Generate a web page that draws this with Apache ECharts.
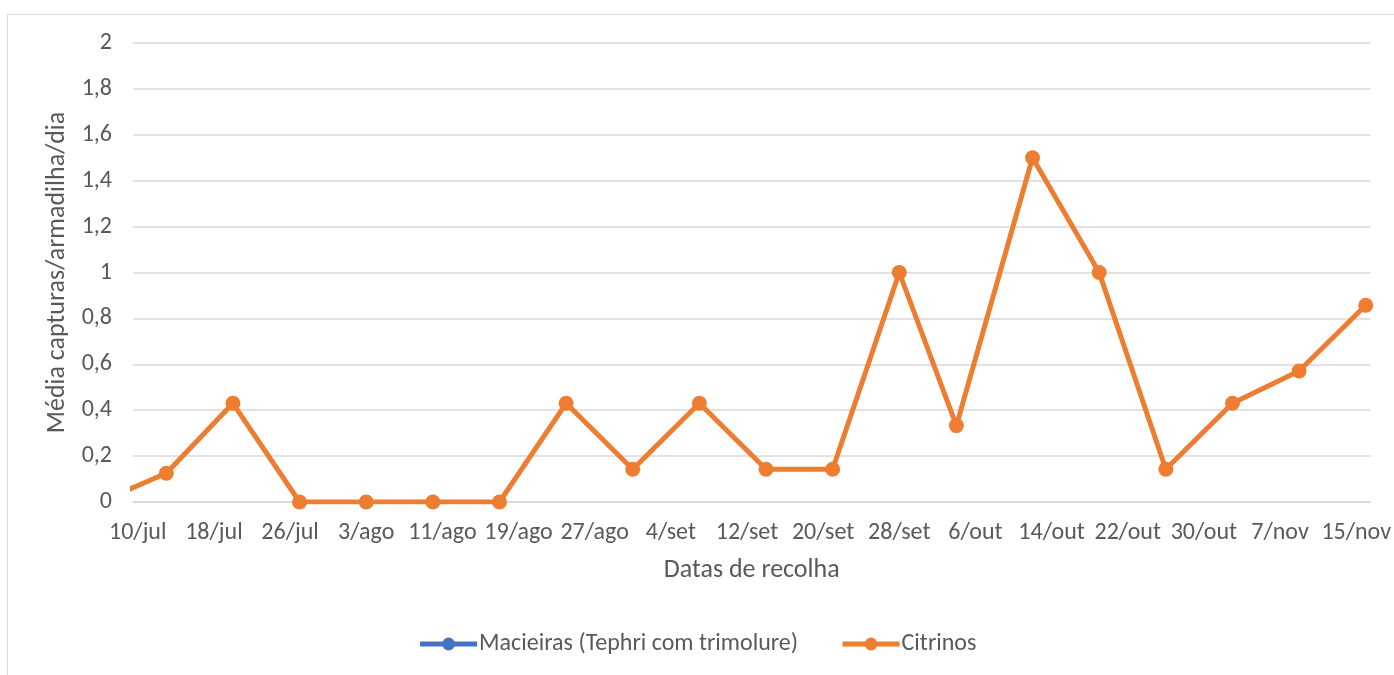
<!DOCTYPE html>
<html>
<head>
<meta charset="utf-8">
<script src="https://cdn.jsdelivr.net/npm/echarts@6/dist/echarts.min.js"></script>
<style>html,body{margin:0;padding:0;background:#fff;}#c{width:1394px;height:675px;}</style>
</head>
<body>
<div id="c"></div>
<script>
// Collection dates (day/month) and values
var year = 2019;
var collectDates = ['06/07','13/07','20/07','27/07','03/08','10/08','17/08','24/08','31/08','07/09','14/09','21/09','28/09','04/10','12/10','19/10','26/10','02/11','09/11','16/11'];
var citrinos = [0, 0.125, 0.43, 0, 0, 0, 0, 0.43, 0.143, 0.43, 0.143, 0.143, 1.0, 0.333, 1.5, 1.0, 0.143, 0.43, 0.571, 0.857];
var macieiras = [];
var tickLabels = ['10/jul','18/jul','26/jul','3/ago','11/ago','19/ago','27/ago','4/set','12/set','20/set','28/set','6/out','14/out','22/out','30/out','7/nov','15/nov'];
var axisStart = '10/07';
var tickStepDays = 8;
var lastDay = '16/11';

function dayOffset(s) {
  var p = s.split('/');
  var a = Date.UTC(year, +p[1] - 1, +p[0]);
  var q = axisStart.split('/');
  var b = Date.UTC(year, +q[1] - 1, +q[0]);
  return Math.round((a - b) / 86400000);
}
var citData = collectDates.map(function (d, i) { return [dayOffset(d), citrinos[i]]; });
var tickVals = tickLabels.map(function (l, i) { return i * tickStepDays; });

var FONT = 'Carlito, Lato, sans-serif';
var TXT = '#595959';
var chart = echarts.init(document.getElementById('c'));
chart.setOption({
  animation: false,
  backgroundColor: '#fff',
  graphic: [{ type: 'rect', shape: { x: 7.5, y: 14.5, width: 1400, height: 700 }, style: { fill: 'none', stroke: '#d9d9d9', lineWidth: 1 } }],
  grid: { left: 133, right: 20, top: 43, bottom: 173 },
  legend: {
    bottom: 14, left: 'center',
    itemWidth: 57, itemHeight: 16, itemGap: 42,
    lineStyle: { width: 5 },
    textStyle: { color: TXT, fontSize: 24, fontFamily: FONT, padding: [0, 0, 0, -3] },
    data: ['Macieiras (Tephri com trimolure)', 'Citrinos']
  },
  xAxis: {
    type: 'value', min: -0.5, max: dayOffset(lastDay) + 0.5,
    splitLine: { show: false },
    axisTick: { show: false },
    axisLine: { show: true, lineStyle: { color: '#d9d9d9', width: 1.5 } },
    axisLabel: {
      customValues: tickVals, color: TXT, fontSize: 24, fontFamily: FONT, margin: 19,
      formatter: function (v) { return tickLabels[Math.round(v / tickStepDays)]; }
    },
    name: 'Datas de recolha', nameLocation: 'middle', nameGap: 55,
    nameTextStyle: { color: TXT, fontSize: 26, fontFamily: FONT }
  },
  yAxis: {
    type: 'value', min: 0, max: 2, interval: 0.2,
    axisLine: { show: false }, axisTick: { show: false },
    splitLine: { lineStyle: { color: '#d9d9d9', width: 1.5 } },
    axisLabel: {
      color: TXT, fontSize: 24, fontFamily: FONT, margin: 21,
      formatter: function (v) { return String(Math.round(v * 10) / 10).replace('.', ','); }
    },
    name: 'Média capturas/armadilha/dia', nameLocation: 'middle', nameGap: 52,
    nameTextStyle: { color: TXT, fontSize: 26, fontFamily: FONT }
  },
  series: [
    { name: 'Macieiras (Tephri com trimolure)', type: 'line', data: macieiras, symbol: 'circle', symbolSize: 15,
      itemStyle: { color: '#4472C4' }, lineStyle: { color: '#4472C4', width: 5 } },
    { name: 'Citrinos', type: 'line', data: citData, symbol: 'circle', symbolSize: 15, clip: true,
      itemStyle: { color: '#ED7D31' }, lineStyle: { color: '#ED7D31', width: 5 } }
  ]
});
</script>
</body>
</html>
